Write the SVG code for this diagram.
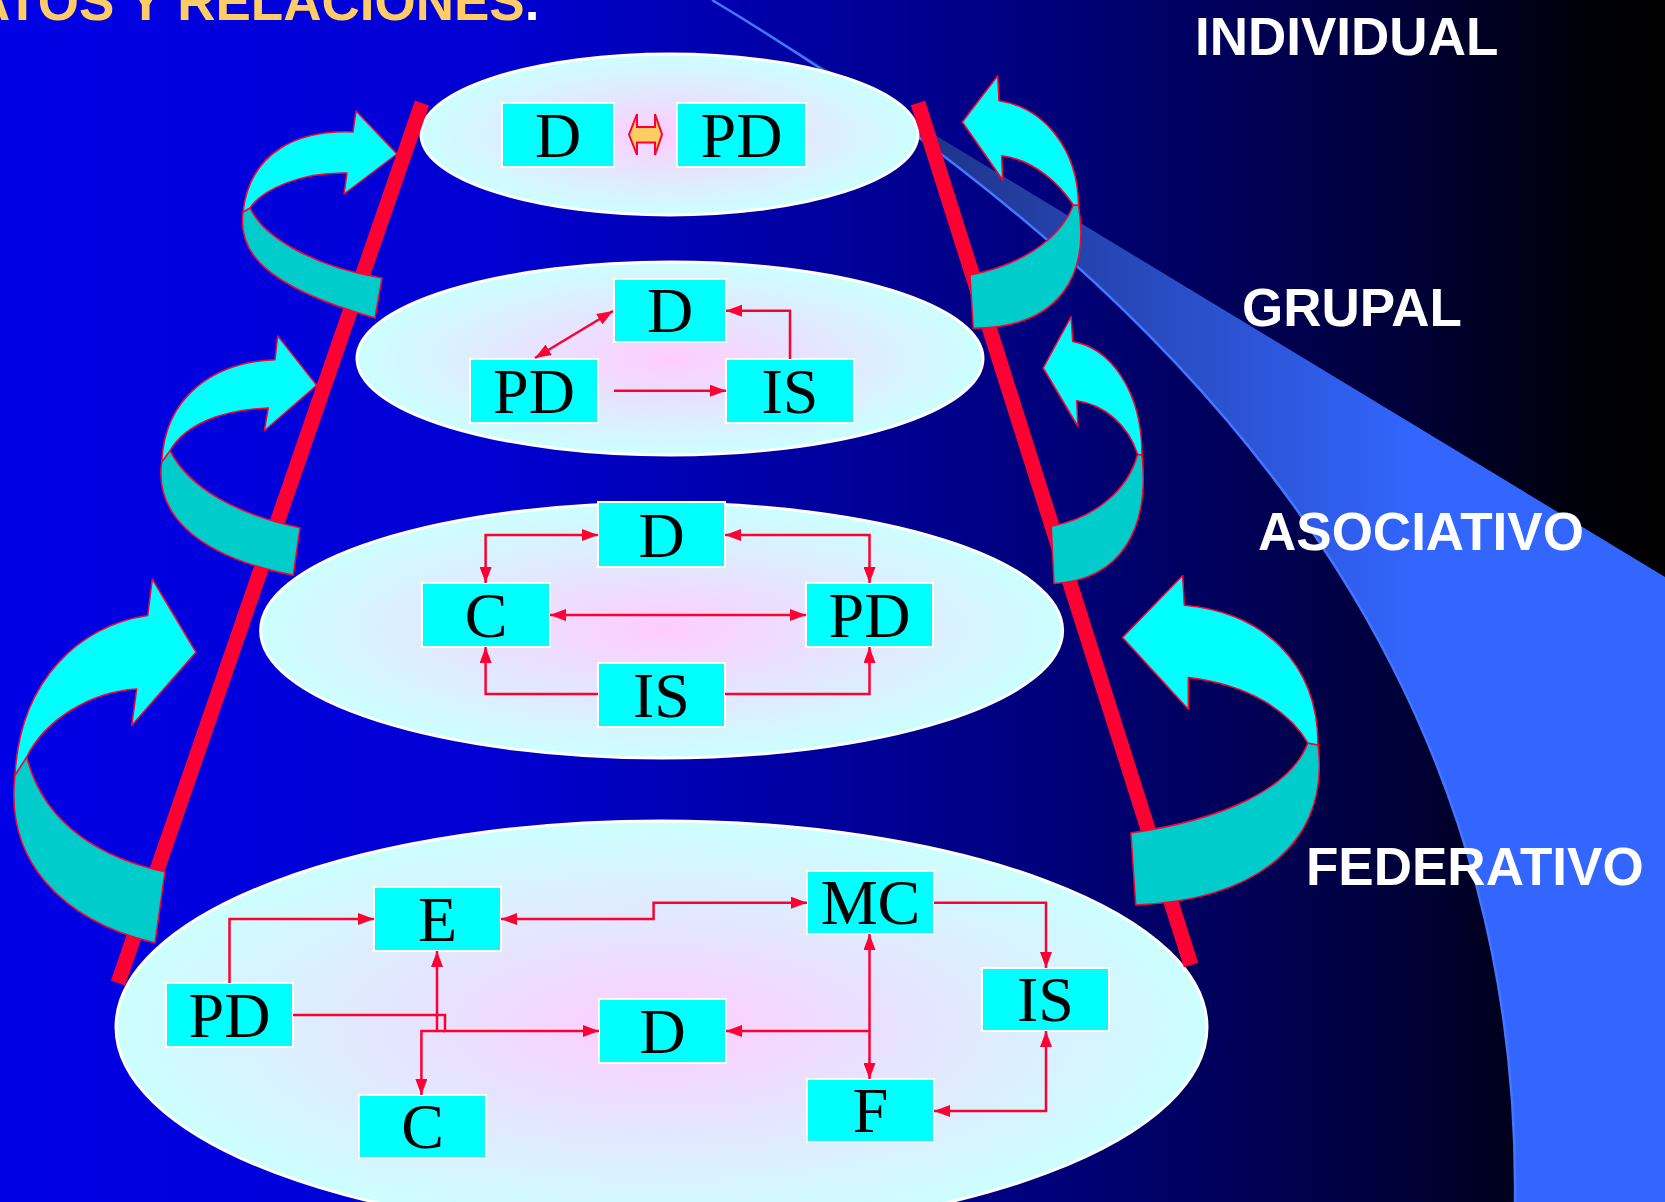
<svg xmlns="http://www.w3.org/2000/svg" width="1665" height="1202" viewBox="0 0 1665 1202">
<defs>
<linearGradient id="bg" x1="0" y1="0" x2="1665" y2="0" gradientUnits="userSpaceOnUse">
<stop offset="0" stop-color="#0000E6"/>
<stop offset="0.3" stop-color="#0000D2"/>
<stop offset="0.42" stop-color="#0000B2"/>
<stop offset="0.66" stop-color="#000072"/>
<stop offset="0.84" stop-color="#00003A"/>
<stop offset="0.95" stop-color="#00000A"/>
<stop offset="1" stop-color="#000000"/>
</linearGradient>
<linearGradient id="beam" x1="920" y1="0" x2="1420" y2="0" gradientUnits="userSpaceOnUse">
<stop offset="0" stop-color="#1E3388"/>
<stop offset="1" stop-color="#3366FF"/>
</linearGradient>
<radialGradient id="eg" cx="0.5" cy="0.5" r="0.5">
<stop offset="0" stop-color="#FFCCFF"/>
<stop offset="0.5" stop-color="#E4E6FF"/>
<stop offset="1" stop-color="#CCFFFF"/>
</radialGradient>
<marker id="ah" viewBox="0 0 16 12" refX="16" refY="6" markerWidth="16" markerHeight="12" markerUnits="userSpaceOnUse" orient="auto-start-reverse">
<path d="M0,0 L16,6 L0,12 z" fill="#FF0033"/>
</marker>
<style>
.lvl{fill:url(#eg);stroke:#FFFFFF;stroke-width:3}
.box{fill:#00FFFF;stroke:#FFFFFF;stroke-width:2}
.bt{font-family:"Liberation Serif","Times New Roman",serif;font-size:64px;fill:#000000;text-anchor:middle}
.lab{font-family:"Liberation Sans",Arial,sans-serif;font-weight:bold;font-size:53px;fill:#FFFFFF}
.c{fill:none;stroke:#FF0033;stroke-width:2.5;marker-end:url(#ah)}
.c2{fill:none;stroke:#FF0033;stroke-width:2.5;marker-end:url(#ah);marker-start:url(#ah)}
.c0{fill:none;stroke:#FF0033;stroke-width:2.5}
.bar{stroke:#FF0033;stroke-width:15;stroke-linecap:butt}
.front{fill:#00FFFF;stroke:#FF0033;stroke-width:1.5;stroke-linejoin:round}
.back{fill:#00CCCC;stroke:#FF0033;stroke-width:1.5;stroke-linejoin:round}
</style>
</defs>

<rect x="0" y="0" width="1665" height="1202" fill="url(#bg)"/>

<g id="beam-shape">
<path d="M712,0 L1665,577 L1665,1202 L1515,1202 C1520,760 1300,353 712,0 Z" fill="url(#beam)"/>
<path d="M712,0 C1300,353 1520,760 1515,1202" fill="none" stroke="#4477FF" stroke-width="2.5"/>
</g>

<text id="title" class="lab" x="-28" y="20" style="fill:#FFCC66">ATOS Y RELACIONES<tspan style="fill:#FFFFFF">.</tspan></text>
<text id="lab-individual" class="lab" x="1195" y="55">INDIVIDUAL</text>
<text id="lab-grupal" class="lab" x="1242" y="326">GRUPAL</text>
<text id="lab-asociativo" class="lab" x="1258" y="550">ASOCIATIVO</text>
<text id="lab-federativo" class="lab" x="1306" y="885">FEDERATIVO</text>

<g id="level-individual">
<ellipse class="lvl" cx="669.5" cy="134.5" rx="248.5" ry="80.5"/>
<g id="ind-D"><rect class="box" x="502" y="103" width="112" height="64"/><text class="bt" x="558" y="157">D</text></g>
<g id="ind-PD"><rect class="box" x="677" y="103" width="129" height="64"/><text class="bt" x="741.5" y="157">PD</text></g>
<polygon id="ind-link" points="629,134.5 637,114 637,127 655,127 655,114 662,134.5 655,155 655,142.5 637,142.5 637,155" fill="#FFCC66" stroke="#FF0033" stroke-width="2"/>
</g>

<g id="level-grupal">
<ellipse class="lvl" cx="670" cy="358.5" rx="313" ry="96.5"/>
<g id="gr-D"><rect class="box" x="614" y="279" width="112" height="63"/><text class="bt" x="670" y="332">D</text></g>
<g id="gr-PD"><rect class="box" x="470" y="359" width="128" height="64"/><text class="bt" x="534" y="413">PD</text></g>
<g id="gr-IS"><rect class="box" x="726" y="359" width="128" height="64"/><text class="bt" x="790" y="413">IS</text></g>
</g>

<g id="level-asociativo">
<ellipse class="lvl" cx="661.6" cy="630.5" rx="401" ry="127.5"/>
<g id="as-D"><rect class="box" x="598" y="502" width="127" height="65"/><text class="bt" x="661.5" y="557">D</text></g>
<g id="as-C"><rect class="box" x="422" y="583" width="128" height="64"/><text class="bt" x="486" y="637">C</text></g>
<g id="as-PD"><rect class="box" x="806" y="583" width="127" height="64"/><text class="bt" x="869.5" y="637">PD</text></g>
<g id="as-IS"><rect class="box" x="598" y="663" width="127" height="64"/><text class="bt" x="661.5" y="717">IS</text></g>
</g>

<g id="level-federativo">
<ellipse class="lvl" cx="661.5" cy="1027" rx="545.5" ry="206"/>
<g id="fe-E"><rect class="box" x="374" y="887" width="127" height="64"/><text class="bt" x="437.5" y="941">E</text></g>
<g id="fe-MC"><rect class="box" x="807" y="871" width="127" height="63"/><text class="bt" x="870.5" y="924">MC</text></g>
<g id="fe-PD"><rect class="box" x="166" y="983" width="127" height="64"/><text class="bt" x="229.5" y="1037">PD</text></g>
<g id="fe-D"><rect class="box" x="599" y="999" width="127" height="64"/><text class="bt" x="662.5" y="1053">D</text></g>
<g id="fe-IS"><rect class="box" x="982" y="968" width="127" height="63"/><text class="bt" x="1045.5" y="1021">IS</text></g>
<g id="fe-C"><rect class="box" x="359" y="1095" width="127" height="63"/><text class="bt" x="422.5" y="1148">C</text></g>
<g id="fe-F"><rect class="box" x="807" y="1079" width="127" height="63"/><text class="bt" x="870.5" y="1132">F</text></g>
</g>

<g id="connectors">
<path class="c2" d="M535,358 L613,311"/>
<path class="c" d="M614,390.7 L726,390.7"/>
<path class="c" d="M790,359 L790,310.7 L726,310.7"/>

<path class="c2" d="M598,535 L485.6,535 L485.6,583"/>
<path class="c2" d="M725,535 L869.5,535 L869.5,583"/>
<path class="c2" d="M550,615 L806,615"/>
<path class="c" d="M598,694 L485.6,694 L485.6,647"/>
<path class="c" d="M725,694 L869.5,694 L869.5,647"/>

<path class="c" d="M229.5,983 L229.5,919 L374,919"/>
<path class="c2" d="M501,919 L653.6,919 L653.6,902.7 L807,902.7"/>
<path class="c" d="M934,902.7 L1046,902.7 L1046,968"/>
<path class="c2" d="M869.5,934 L869.5,1079"/>
<path class="c2" d="M934,1111 L1046,1111 L1046,1031"/>
<path class="c" d="M869.5,1031 L726,1031"/>
<path class="c" d="M293,1015 L445,1015 L445,1031 L599,1031"/>
<path class="c" d="M437,1031 L437,951"/>
<path class="c" d="M445,1031 L421.4,1031 L421.4,1095"/>
</g>

<g id="pillars">
<line class="bar" x1="422" y1="103" x2="118" y2="983"/>
<line class="bar" x1="918" y1="103" x2="1191" y2="965"/>
</g>

<g id="turn-arrows">
<g id="arrow-l1">
<path class="back" d="M243,212 C238,250 260,285 375,318 L382,278 C320,268 265,240 250,208 Z"/>
<path class="front" d="M397,154 L356,111 L353,132 C300,130 250,150 243,212 L250,208 C262,190 300,172 347,173 L344,194 Z"/>
</g>
<g id="arrow-l2">
<path class="back" d="M161.7,462 C155,510 190,555 293.3,575.2 L300,527.7 C240,515 190,490 170,450.6 Z"/>
<path class="front" d="M316.7,385.4 L277.7,335.9 L275,359.7 C215,362 165,395 161.7,462 L170,450.6 C185,425 220,410 268.3,407.9 L264.3,430.8 Z"/>
</g>
<g id="arrow-l3">
<path class="back" d="M15,775 C5,860 60,920 155,943 L165,871.7 C110,860 45,830 26.7,757 Z"/>
<path class="front" d="M196,652.3 L152.3,579.1 L147.7,615.5 C80,625 20,680 15,775 L26.7,757 C45,720 90,692 136.7,689 L131.7,725.4 Z"/>
</g>
<g id="arrow-r1">
<path class="back" d="M1078.5,205 C1090,275 1060,328 973.3,328.3 L970,275 C1020,265 1060,240 1073.3,205 Z"/>
<path class="front" d="M962.3,122 L997.7,75.7 L999,100.7 C1045,108 1078,150 1078.5,205 L1073.3,205 C1060,185 1035,160 1001.7,155.7 L1002.7,180 Z"/>
</g>
<g id="arrow-r2">
<path class="back" d="M1142,455 C1150,530 1120,580 1054,583.5 L1051.2,526.2 C1095,518 1128,490 1137.6,454.2 Z"/>
<path class="front" d="M1043.2,368 L1071.1,316.6 L1072.7,341.5 C1110,348 1142,390 1142,455 L1137.6,454.2 C1128,425 1105,405 1076.7,400.8 L1077.9,426.5 Z"/>
</g>
<g id="arrow-r3">
<path class="back" d="M1318,745 C1330,840 1260,900 1135.7,905 L1130.9,833 C1220,820 1290,790 1307.8,742.9 Z"/>
<path class="front" d="M1122.5,637.5 L1182.7,575.5 L1184.3,605.3 C1260,612 1318,660 1318,745 L1307.8,742.9 C1290,712 1250,685 1188.3,677.6 L1188.3,709.3 Z"/>
</g>
</g>
</svg>
